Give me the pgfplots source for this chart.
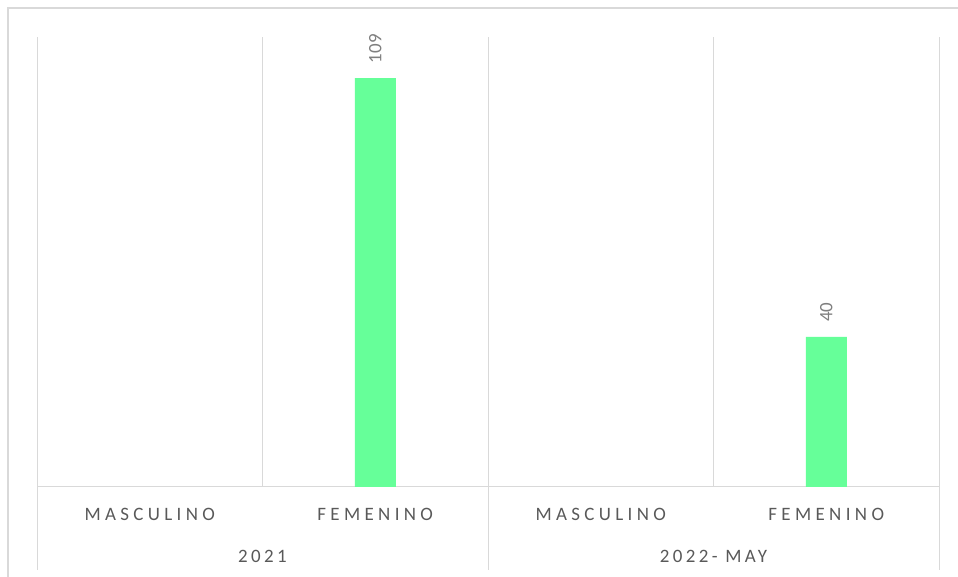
\documentclass[border=0pt]{standalone}
\usepackage{fontspec}
\setmainfont{Carlito}
\newfontfamily\spaced[LetterSpace=23]{Carlito}
\newfontfamily\spacedd[LetterSpace=18]{Carlito}
\usepackage{pgfplots}
\pgfplotsset{compat=1.18}
\definecolor{gridc}{HTML}{D9D9D9}
\definecolor{txt}{HTML}{595959}
\definecolor{lbl}{HTML}{7F7F7F}
\definecolor{barc}{HTML}{66FF99}
\begin{document}
\begin{tikzpicture}[x=1bp,y=1bp]
\path[use as bounding box,fill=white] (0,0) rectangle (958,577);
\draw[gridc,line width=1.5bp] (8,0) -- (8,569) -- (958,569);
\begin{axis}[at={(37bp,90bp)}, anchor=south west, scale only axis,
  width=902bp, height=450bp,
  xmin=-0.5, xmax=3.5, ymin=0, ymax=120,
  clip=false,
  hide y axis,
  axis x line*=bottom,
  x axis line style={gridc, line width=1bp},
  xtick={0,1,2,3},
  xticklabels={MASCULINO,FEMENINO,MASCULINO,FEMENINO},
  major tick length=0pt,
  xticklabel style={font=\spaced\fontsize{19}{19}\selectfont, text=txt, anchor=base, yshift=-34bp},
  extra x ticks={-0.5,0.5,1.5,2.5,3.5},
  extra x tick labels={},
  extra x tick style={grid=major, major grid style={gridc, line width=1bp}},
  ybar, bar width=41bp,
  /pgf/number format/assume math mode=true,
  nodes near coords,
  every node near coord/.append style={rotate=90, anchor=west, inner xsep=15bp, inner ysep=0pt,
     font=\fontsize{19}{19}\selectfont, text=lbl},
]
\addplot[fill=barc, draw=none] coordinates {(1,109) (3,40)};
\draw[gridc, line width=1bp] (axis cs:-0.5,0) -- ([yshift=-83bp]axis cs:-0.5,0);
\draw[gridc, line width=1bp] (axis cs:1.5,0) -- ([yshift=-83bp]axis cs:1.5,0);
\draw[gridc, line width=1bp] (axis cs:3.5,0) -- ([yshift=-83bp]axis cs:3.5,0);
\node[font=\spacedd\fontsize{19}{19}\selectfont, text=txt, anchor=base, yshift=-76bp] at (axis cs:0.5,0) {2021};
\node[font=\spacedd\fontsize{19}{19}\selectfont, text=txt, anchor=base, yshift=-76bp] at (axis cs:2.5,0) {2022- MAY};
\end{axis}
\end{tikzpicture}
\end{document}
